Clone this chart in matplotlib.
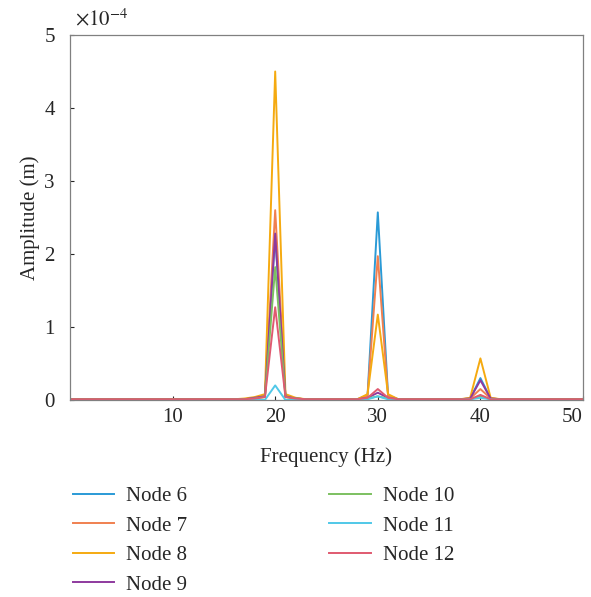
import matplotlib
matplotlib.use("Agg")
import matplotlib.pyplot as plt

plt.rcParams["font.family"] = ["Liberation Serif", "DejaVu Serif"]
plt.rcParams["mathtext.fontset"] = "stix"

# Frequency axis (Hz) and amplitudes (x1e-4 m) per node
freq = list(range(0, 51))

node6 = [0.01] * 17 + [0.01, 0.03, 0.05, 2.25, 0.05, 0.02, 0.01] + [0.01] * 5 + [0.06, 2.57, 0.06] + [0.01] * 7 + [0.02, 0.30, 0.02] + [0.01] * 9
node7 = [0.01] * 17 + [0.01, 0.03, 0.05, 2.60, 0.05, 0.02, 0.01] + [0.01] * 5 + [0.06, 1.97, 0.06] + [0.01] * 7 + [0.02, 0.15, 0.02] + [0.01] * 9
node8 = [0.01] * 17 + [0.02, 0.04, 0.08, 4.50, 0.08, 0.03, 0.01] + [0.01] * 5 + [0.08, 1.17, 0.08] + [0.01] * 7 + [0.03, 0.57, 0.03] + [0.01] * 9
node9 = [0.01] * 17 + [0.01, 0.03, 0.05, 2.28, 0.05, 0.02, 0.01] + [0.01] * 5 + [0.03, 0.10, 0.03] + [0.01] * 7 + [0.02, 0.27, 0.02] + [0.01] * 9
node10 = [0.01] * 17 + [0.01, 0.02, 0.04, 1.82, 0.04, 0.02, 0.01] + [0.01] * 5 + [0.02, 0.05, 0.02] + [0.01] * 7 + [0.01, 0.05, 0.01] + [0.01] * 9
node11 = [0.00] * 17 + [0.00, 0.00, 0.00, 0.20, 0.00, 0.00, 0.00] + [0.00] * 5 + [0.01, 0.05, 0.01] + [0.00] * 7 + [0.01, 0.03, 0.01] + [0.00] * 9
node12 = [0.01] * 17 + [0.01, 0.02, 0.04, 1.27, 0.04, 0.02, 0.01] + [0.01] * 5 + [0.03, 0.15, 0.03] + [0.01] * 7 + [0.01, 0.07, 0.01] + [0.01] * 9

labels = ["Node 6", "Node 7", "Node 8", "Node 9", "Node 10", "Node 11", "Node 12"]
series = [node6, node7, node8, node9, node10, node11, node12]
colors = ["#2a9ad6", "#f08050", "#f5aa10", "#8e3a9e", "#7cc060", "#50c8e8", "#e05a70"]

fig = plt.figure(figsize=(5.91, 5.97), dpi=100)
ax = fig.add_axes([0.1184, 0.330, 0.8681, 0.6114])

for y, lab, c in zip(series, labels, colors):
    ax.plot(freq, y, color=c, lw=1.4, label=lab)

ax.set_xlim(0, 50)
ax.set_ylim(0, 5)
ax.set_xticks([10, 20, 30, 40, 50])
ax.set_yticks([0, 1, 2, 3, 4, 5])
ax.tick_params(direction="in", length=3, labelsize=15, colors="#262626", width=0.8)
ax.tick_params(axis="y", pad=11)
ax.tick_params(axis="x", pad=6)
# last x label sits inside the figure edge
ax.get_xticklabels()[-1].set_horizontalalignment("right")
for s in ax.spines.values():
    s.set_color("#808080")
    s.set_linewidth(0.9)

ax.set_xlabel("Frequency (Hz)", fontsize=15, color="#262626", labelpad=14)
ax.set_ylabel("Amplitude (m)", fontsize=15, color="#262626", labelpad=3)
ax.text(0.01, 1.012, r"$\times10^{-4}$", transform=ax.transAxes, fontsize=15,
        color="#262626", ha="left", va="bottom")

fig.legend(loc="upper left", bbox_to_anchor=(0.091, 0.216), ncol=2, frameon=False,
           fontsize=15, handlelength=2.0, columnspacing=6.8, labelspacing=0.47,
           handletextpad=0.58, labelcolor="#262626")

fig.savefig("out.png", dpi=100)
